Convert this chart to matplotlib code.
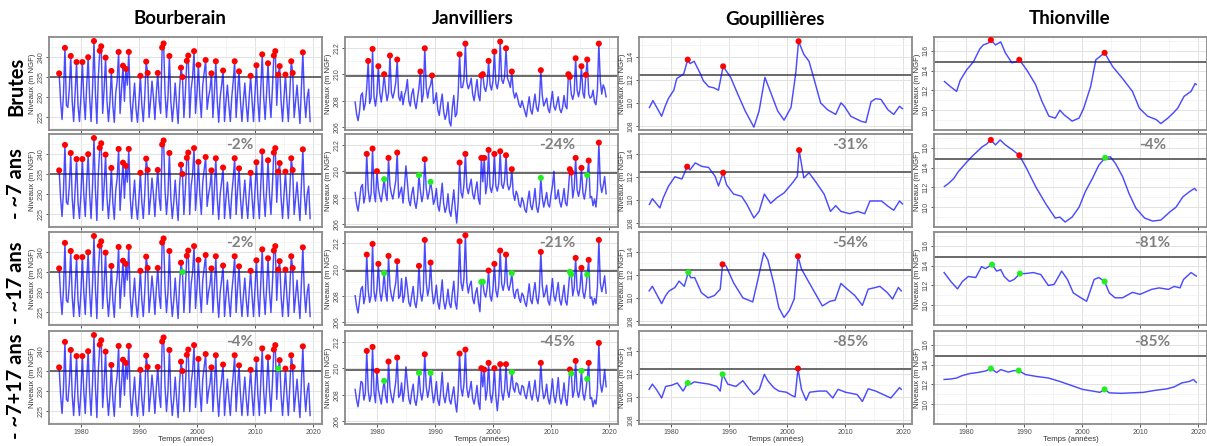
import numpy as np
import matplotlib
matplotlib.use('Agg')
import matplotlib.pyplot as plt
from matplotlib.ticker import MultipleLocator

# ---------------- data ----------------
sites = ['Bourberain', 'Janvilliers', 'Goupillières', 'Thionville']
rows = ['Brutes', '- ~7 ans', '- ~17 ans', '- ~7+17 ans']
pct = [[None, None, None, None],
       ['-2%', '-24%', '-31%', '-4%'],
       ['-2%', '-21%', '-54%', '-81%'],
       ['-4%', '-45%', '-85%', '-85%']]

# quarterly series start at 1976.25
q_start = 1976.25

bourb_h = [
    235.9, 229.0, 224.5,
    231.0, 242.2, 228.0, 227.5,
    232.0, 240.2, 229.0, 224.0,
    231.0, 238.7, 228.0, 224.0,
    230.0, 238.7, 230.0, 224.5,
    233.0, 239.9, 230.0, 224.0,
    232.0, 243.9, 231.0, 223.5,
    235.0, 241.5, 242.6, 226.0,
    232.0, 239.8, 229.0, 224.0,
    229.0, 236.5, 228.0, 223.8,
    231.0, 234.0, 241.2, 226.0,
    232.0, 237.8, 229.0, 237.0,
    233.0, 241.2, 229.0, 224.0,
    229.0, 233.5, 227.0, 223.8,
    229.0, 235.3, 228.0, 224.0,
    230.0, 238.8, 236.0, 225.0,
    229.0, 234.0, 230.0, 224.5,
    231.0, 236.0, 229.0, 226.0,
    242.3, 243.3, 231.0, 225.0,
    230.0, 240.2, 229.0, 224.0,
    228.0, 233.5, 228.0, 223.5,
    232.0, 237.3, 235.0, 225.0,
    231.0, 239.0, 240.3, 225.0,
    232.0, 235.0, 241.4, 226.0,
    231.0, 238.0, 230.0, 225.0,
    233.0, 236.0, 239.2, 227.0,
    230.0, 232.0, 235.9, 225.0,
    231.0, 238.9, 229.0, 223.8,
    230.0, 233.0, 236.6, 224.0,
    229.0, 233.0, 228.0, 224.0,
    230.0, 234.0, 238.9, 225.0,
    231.0, 236.4, 229.0, 224.0,
    229.0, 233.5, 228.0, 224.0,
    230.0, 235.3, 229.0, 224.0,
    231.0, 237.9, 229.0, 224.0,
    232.0, 240.6, 230.0, 224.5,
    231.0, 238.4, 230.0, 225.0,
    232.0, 240.3, 241.4, 228.0,
    235.6, 237.7, 229.0, 224.0,
    230.0, 235.6, 229.0, 224.0,
    231.0, 238.9, 236.0, 225.0,
    229.0, 233.0, 228.0, 223.5,
    232.0, 241.1, 230.0, 225.0,
    230.0, 232.0, 224.0,
]
bourb_peaks = [1976.25, 1977.25, 1978.25, 1979.25, 1980.25, 1981.25, 1982.25, 1983.25,
               1983.5, 1984.25, 1985.25, 1986.5, 1987.25, 1987.75, 1988.25, 1990.25,
               1991.25, 1991.5, 1993.25, 1994.0, 1994.25, 1995.25, 1997.25, 1997.5,
               1998.25, 1998.5, 1999.5, 2000.25, 2001.5, 2002.5, 2003.25, 2004.5,
               2006.5, 2007.25, 2009.25, 2010.25, 2011.25, 2012.25, 2013.25, 2013.5,
               2014.0, 2014.25, 2015.25, 2016.25, 2016.5, 2018.25]
bourb_green = [[], [], [1997.5], [2014.0]]

janv_h1 = [
    207.9, 207.0, 206.5,
    207.2, 208.4, 208.6, 207.3,
    207.8, 209.0, 211.0, 207.8,
    208.2, 211.9, 208.3, 207.6,
    208.5, 210.6, 208.6, 207.9,
    208.8, 210.0, 208.8, 208.0,
    208.6, 211.4, 208.6, 208.2,
    208.7, 209.4, 211.1, 208.3,
    208.0, 208.7, 207.7, 208.4,
    208.8, 209.6, 208.0, 207.6,
    208.5, 208.9, 207.9, 207.4,
    208.2, 209.0, 210.2, 207.9,
    208.5, 211.95, 209.0, 208.2,
    208.9, 209.2, 209.9, 207.8,
    208.0, 208.6, 207.3, 206.9,
    207.8, 208.5, 207.2, 206.6,
    207.0, 207.9, 206.4, 206.1,
    207.5, 208.4, 206.8, 207.0,
    208.5, 211.5, 209.0, 209.0,
    209.6, 212.3, 209.4, 208.9,
    209.2, 209.7, 208.5, 208.0,
    208.8, 209.6, 208.4, 208.0,
    209.9, 210.0, 209.0, 208.7,
    209.3, 211.0, 209.2, 208.8,
    209.5, 211.7, 209.3, 208.9,
    209.6, 212.45, 209.6, 209.3,
    209.8, 211.95, 209.7, 209.4,
    209.0, 210.2, 208.7, 208.2,
    208.6, 208.2, 207.7, 207.5,
    208.0, 207.6, 207.2, 206.8,
    207.6, 208.3, 207.3, 207.0,
    207.8, 208.5, 207.5, 207.2,
    208.0, 210.3, 208.4, 207.6,
    207.9, 208.2, 207.4, 207.1,
    207.9, 208.7, 207.6, 207.3,
    207.8, 208.3, 207.4, 207.1,
    207.5, 208.4, 207.6, 207.4,
    210.0, 209.8, 208.5, 208.1,
    208.6, 211.2, 208.8, 208.3,
    208.9, 210.6, 208.6, 208.2,
    209.95, 211.1, 208.5, 208.2,
    208.3, 208.8, 207.9, 207.7,
    208.8, 212.3, 209.5, 208.5,
    209.2, 208.9, 208.3,
]
janv_h2 = [
    208.4, 207.5, 207.0,
    207.8, 208.8, 209.0, 207.6,
    208.2, 211.3, 208.6, 207.7,
    208.3, 211.7, 208.4, 207.7,
    210.0, 208.7, 208.1, 207.7,
    208.5, 209.4, 208.3, 207.8,
    211.0, 208.9, 208.3, 207.9,
    208.6, 209.3, 211.4, 208.0,
    208.4, 208.8, 207.6, 208.8,
    210.4, 209.2, 207.8, 207.4,
    208.3, 208.8, 207.7, 207.2,
    208.0, 209.7, 208.5, 207.7,
    208.3, 210.9, 208.7, 207.9,
    208.4, 209.2, 208.5, 207.5,
    207.9, 208.7, 207.4, 207.0,
    208.0, 209.1, 207.6, 206.9,
    207.3, 208.3, 207.0, 206.6,
    207.6, 208.6, 207.2, 206.1,
    207.6, 210.65, 208.4, 208.0,
    209.0, 211.3, 208.8, 208.3,
    208.9, 209.4, 208.3, 207.9,
    208.6, 209.2, 207.9, 207.5,
    211.0, 209.2, 211.0, 208.3,
    209.0, 211.6, 208.8, 208.4,
    209.0, 211.3, 208.9, 208.5,
    209.1, 211.5, 209.0, 208.7,
    209.3, 211.2, 209.0, 208.6,
    208.9, 210.15, 208.3, 207.8,
    208.5, 208.2, 207.5, 207.3,
    208.0, 207.7, 207.1, 206.9,
    207.8, 208.5, 207.4, 207.1,
    207.8, 208.7, 207.3, 206.9,
    207.6, 209.5, 208.0, 207.3,
    207.8, 208.4, 207.5, 207.3,
    208.2, 208.9, 210.0, 207.9,
    208.0, 208.6, 207.7, 207.3,
    207.9, 208.7, 207.6, 207.4,
    208.6, 210.15, 209.9, 208.0,
    208.7, 211.0, 208.6, 208.1,
    208.7, 210.25, 208.4, 207.9,
    208.6, 209.7, 210.8, 208.0,
    208.1, 207.4, 207.9, 207.3,
    208.6, 212.15, 209.1, 208.4,
    208.9, 209.6, 208.3,
]
janv_h3 = [
    208.0, 207.2, 206.7,
    207.6, 208.5, 208.7, 207.4,
    208.0, 211.1, 208.4, 207.5,
    208.0, 211.9, 208.3, 207.6,
    208.5, 210.4, 208.3, 207.6,
    208.4, 209.7, 208.2, 207.6,
    211.0, 208.7, 208.0, 207.6,
    208.4, 209.0, 210.6, 207.8,
    208.0, 209.3, 207.5, 208.0,
    209.4, 208.6, 207.5, 207.2,
    208.0, 208.7, 207.5, 207.1,
    208.0, 210.25, 208.2, 207.6,
    208.4, 212.2, 209.0, 208.0,
    208.6, 210.5, 208.4, 207.4,
    207.9, 208.8, 207.5, 207.0,
    208.0, 209.2, 207.6, 207.0,
    207.6, 208.5, 207.4, 207.1,
    208.2, 209.1, 207.5, 207.0,
    208.6, 212.1, 209.0, 208.4,
    209.3, 212.55, 209.0, 208.2,
    208.8, 209.1, 207.8, 207.4,
    208.2, 208.6, 207.5, 206.8,
    209.05, 209.05, 208.2, 207.9,
    208.6, 209.9, 208.0, 207.6,
    208.5, 210.4, 208.4, 207.9,
    208.8, 211.4, 208.9, 208.4,
    209.0, 211.1, 208.8, 208.4,
    208.9, 209.7, 208.3, 207.8,
    208.4, 208.5, 207.8, 207.5,
    208.2, 208.0, 207.5, 207.2,
    208.0, 208.9, 207.7, 207.4,
    208.3, 209.0, 207.8, 207.4,
    208.4, 211.3, 208.8, 207.9,
    208.2, 208.8, 207.6, 207.3,
    208.2, 209.3, 208.0, 207.6,
    208.3, 209.0, 207.7, 207.3,
    208.0, 208.8, 207.6, 207.3,
    208.5, 209.8, 209.6, 208.0,
    208.6, 210.85, 208.5, 208.0,
    208.6, 210.1, 208.3, 207.8,
    208.5, 209.6, 210.7, 207.8,
    207.9, 207.3, 207.8, 207.4,
    208.6, 212.2, 209.0, 208.3,
    208.8, 209.5, 208.2,
]
janv_h4 = [
    208.4, 207.6, 207.1,
    208.0, 209.0, 208.9, 207.6,
    208.1, 211.3, 208.3, 207.5,
    208.0, 211.6, 208.2, 207.4,
    209.8, 208.4, 207.8, 207.3,
    208.3, 209.05, 207.9, 207.4,
    210.5, 208.5, 207.8, 207.4,
    208.2, 209.0, 210.8, 207.8,
    208.0, 208.9, 207.5, 208.4,
    210.1, 208.9, 207.7, 207.3,
    208.2, 208.8, 207.6, 207.2,
    208.0, 209.65, 208.2, 207.6,
    208.3, 211.05, 208.6, 207.8,
    208.4, 209.65, 208.3, 207.4,
    208.0, 209.0, 207.6, 207.2,
    208.3, 209.7, 207.9, 207.4,
    208.1, 208.9, 207.6, 207.3,
    208.0, 208.6, 207.4, 206.7,
    208.2, 211.1, 208.5, 207.9,
    208.8, 211.4, 208.5, 207.8,
    208.4, 209.0, 207.7, 207.3,
    207.9, 208.7, 207.4, 206.9,
    210.0, 208.6, 209.9, 207.6,
    208.3, 210.4, 208.1, 207.4,
    208.2, 210.0, 207.9, 206.8,
    208.0, 210.3, 208.2, 207.6,
    208.4, 210.3, 208.3, 207.8,
    208.6, 209.7, 208.5, 208.2,
    208.9, 208.8, 208.2, 208.0,
    208.7, 208.6, 208.0, 207.7,
    208.4, 209.0, 208.0, 207.6,
    208.3, 209.1, 207.9, 207.5,
    208.2, 210.4, 208.5, 207.7,
    208.0, 208.8, 207.7, 207.3,
    208.1, 209.2, 207.9, 207.4,
    208.2, 209.3, 207.8, 207.3,
    207.9, 208.9, 207.7, 207.2,
    208.4, 209.9, 209.6, 207.8,
    208.3, 210.55, 208.3, 207.8,
    208.4, 209.8, 208.1, 207.6,
    208.3, 209.2, 210.4, 207.7,
    207.8, 207.1, 207.6, 207.3,
    208.4, 211.9, 208.9, 208.2,
    208.8, 209.9, 208.6,
]
janv_red = [
    [1978.5, 1979.25, 1980.25, 1981.25, 1982.25, 1983.5, 1987.5, 1988.25, 1989.5, 1994.25,
     1995.25, 1998.0, 1998.25, 1999.25, 2000.25, 2001.25, 2002.25, 2003.25, 2008.25,
     2013.0, 2013.25, 2014.25, 2015.25, 2016.0, 2016.25, 2018.25],
    [1978.25, 1979.25, 1980.0, 1982.0, 1983.5, 1988.25, 1994.25, 1995.25, 1998.0, 1998.5,
     1999.25, 2000.25, 2001.25, 2002.25, 2003.25, 2013.25, 2013.5, 2014.25, 2015.25,
     2016.5, 2018.25],
    [1978.25, 1979.25, 1980.25, 1982.0, 1983.5, 1987.25, 1988.25, 1989.25, 1994.25, 1995.25,
     1999.25, 2000.25, 2001.25, 2002.25, 2008.25, 2014.25, 2015.25, 2016.5, 2018.25],
    [1978.25, 1979.25, 1980.0, 1982.0, 1983.5, 1988.25, 1994.25, 1995.25, 1998.0, 1998.5,
     1999.25, 2000.25, 2001.25, 2002.25, 2008.25, 2013.25, 2014.25, 2016.5, 2018.25],
]
janv_green = [
    [],
    [1981.25, 1987.25, 1989.25, 2008.25, 2016.25],
    [1981.25, 1998.0, 1998.25, 2003.25, 2013.25, 2013.5, 2016.25],
    [1981.25, 1987.25, 1989.25, 2003.25, 2013.5, 2015.25, 2016.25],
]

goup_t1 = [1976.3, 1976.9, 1978.4, 1979.0, 1979.6, 1980.5, 1981.0, 1982.2, 1982.9, 1983.3,
           1984.0, 1985.0, 1985.6, 1986.5, 1987.4, 1988.2, 1989.0, 1990.3, 1991.4, 1992.8,
           1994.3, 1995.2, 1996.2, 1997.2, 1998.4, 1999.5, 2000.7, 2001.5, 2002.0, 2002.9,
           2003.8, 2004.7, 2005.8, 2007.0, 2008.4, 2009.3, 2009.9, 2011.0, 2012.8, 2013.6,
           2014.5, 2015.3, 2016.2, 2017.4, 2018.4, 2019.4, 2019.9]
goup_h1 = [109.6, 110.2, 108.84, 109.7, 110.4, 111.1, 112.1, 112.5, 113.74, 113.4,
           113.6, 112.6, 111.9, 111.4, 111.3, 111.1, 113.16, 112.2, 110.9, 109.3,
           107.9, 109.3, 112.2, 110.9, 109.3, 108.5, 109.6, 112.5, 115.33, 114.2,
           113.6, 112.0, 110.0, 109.4, 109.0, 110.0, 109.7, 108.84, 108.4, 108.3,
           110.1, 110.36, 110.3, 109.4, 109.0, 109.7, 109.5]
goup_t2 = [1976.3, 1976.8, 1978.1, 1978.7, 1979.6, 1980.7, 1981.9, 1982.8, 1983.3, 1984.2,
           1985.3, 1986.5, 1987.6, 1988.2, 1989.0, 1989.6, 1990.8, 1992.2, 1993.1, 1994.3,
           1995.2, 1996.1, 1997.2, 1998.3, 1999.5, 2001.0, 2001.8, 2002.1, 2002.9, 2003.8,
           2004.9, 2006.4, 2007.5, 2008.4, 2009.3, 2010.8, 2012.2, 2013.4, 2014.3, 2015.4,
           2016.3, 2017.4, 2018.4, 2019.4, 2019.9]
goup_h2 = [109.6, 110.1, 109.3, 110.2, 111.2, 112.0, 111.8, 112.87, 112.6, 113.2,
           112.9, 112.8, 112.05, 111.2, 112.35, 111.3, 110.5, 110.3, 109.6, 108.43,
           109.0, 110.5, 109.7, 110.2, 110.6, 111.5, 112.05, 114.3, 111.9, 112.35,
           111.6, 110.5, 109.0, 109.5, 109.0, 108.8, 109.0, 108.8, 109.9, 109.9,
           109.9, 109.45, 109.1, 109.9, 109.65]
goup_t3 = [1976.25, 1976.8, 1977.55, 1978.4, 1979.1, 1979.7, 1980.7, 1981.4, 1982.3, 1983.0,
           1983.4, 1984.1, 1985.25, 1986.4, 1987.5, 1988.5, 1988.9, 1989.5, 1990.8, 1992.4,
           1994.1, 1995.0, 1996.0, 1996.7, 1997.7, 1998.6, 1999.5, 2000.4, 2001.25, 2001.9,
           2002.5, 2003.5, 2004.8, 2006.1, 2007.4, 2008.3, 2009.3, 2010.4, 2011.7, 2013.0,
           2014.0, 2015.3, 2016.0, 2017.3, 2018.2, 2019.2, 2019.7]
goup_h3 = [110.6, 111.0, 110.3, 109.5, 110.2, 110.6, 110.9, 111.45, 111.0, 112.2,
           111.75, 111.75, 110.45, 110.0, 110.2, 110.75, 112.9, 112.76, 111.3, 110.0,
           109.65, 111.6, 113.9, 113.3, 111.3, 109.15, 108.3, 108.9, 109.9, 113.6,
           112.5, 111.6, 110.45, 109.3, 109.7, 109.8, 111.25, 110.75, 110.2, 109.35,
           110.75, 110.9, 111.0, 110.45, 109.9, 110.9, 110.6]
goup_t4 = [1976.25, 1976.8, 1977.55, 1978.4, 1979.1, 1980.1, 1981.1, 1982.1, 1982.9, 1983.4,
           1984.0, 1985.25, 1986.6, 1987.9, 1988.5, 1988.9, 1989.8, 1991.2, 1992.4, 1993.5,
           1994.3, 1995.25, 1996.1, 1996.7, 1997.7, 1998.6, 1999.9, 2000.9, 2001.4, 2001.9,
           2002.5, 2003.3, 2003.9, 2005.5, 2006.8, 2007.9, 2008.8, 2010.1, 2012.1, 2013.0,
           2014.0, 2015.3, 2016.6, 2017.9, 2018.9, 2019.4, 2019.7]
goup_h4 = [110.65, 111.1, 110.6, 109.9, 110.9, 111.0, 111.2, 110.5, 111.2, 111.1,
           111.3, 111.2, 111.1, 110.9, 110.5, 111.95, 111.1, 110.9, 111.4, 110.65,
           110.2, 110.65, 111.95, 111.4, 110.8, 110.5, 110.4, 110.1, 110.0, 112.45,
           110.65, 109.7, 110.4, 110.5, 110.5, 109.9, 110.65, 110.4, 110.2, 109.6,
           110.7, 110.5, 110.2, 109.9, 110.5, 110.8, 110.65]
goup_red = [[1982.9, 1989.0, 2002.0], [1982.8, 1989.0, 2002.1], [1988.9, 2001.9], [2001.9]]
goup_green = [[], [], [1983.0], [1982.9, 1988.9]]

thion_t1 = [1976.3, 1977.3, 1978.4, 1979.0, 1980.1, 1981.3, 1982.4, 1983.0, 1983.9, 1984.3,
            1985.1, 1986.0, 1986.8, 1987.9, 1988.8, 1989.2, 1990.5, 1992.0, 1993.1, 1994.3,
            1995.4, 1996.2, 1996.9, 1998.3, 1999.5, 2000.3, 2001.5, 2002.4, 2003.9, 2005.3,
            2007.0, 2008.7, 2009.9, 2011.3, 2012.8, 2013.6, 2014.8, 2015.7, 2016.5, 2017.6,
            2018.8, 2019.5, 2019.7]
thion_h1 = [112.9, 112.4, 111.9, 113.0, 114.06, 114.9, 116.2, 116.6, 116.8, 117.1,
            116.6, 116.9, 115.8, 114.8, 114.9, 115.1, 114.06, 112.6, 110.9, 109.4,
            109.2, 110.0, 109.55, 108.9, 109.2, 110.2, 112.4, 115.1, 115.8, 114.4,
            113.2, 111.9, 110.2, 109.4, 109.05, 108.65, 109.2, 109.7, 110.2, 111.4,
            111.9, 112.7, 112.6]
thion_t2 = [1976.3, 1977.0, 1977.9, 1978.7, 1979.9, 1981.0, 1981.9, 1982.8, 1983.6, 1984.3,
            1985.1, 1985.9, 1986.8, 1988.0, 1989.2, 1990.3, 1992.0, 1993.7, 1995.4, 1996.2,
            1997.1, 1998.3, 1999.5, 2000.6, 2001.8, 2002.9, 2004.0, 2004.9, 2005.8, 2007.0,
            2008.1, 2009.3, 2010.8, 2012.2, 2013.6, 2015.1, 2016.2, 2017.4, 2018.6, 2019.4,
            2019.7]
thion_h2 = [112.1, 112.4, 112.9, 113.6, 114.4, 115.1, 115.6, 116.1, 116.4, 116.8,
            116.3, 116.8, 116.3, 115.8, 115.25, 114.1, 112.1, 110.4, 108.9, 109.0,
            108.5, 109.0, 110.0, 111.6, 112.9, 114.25, 115.0, 115.1, 114.4, 113.1,
            111.4, 109.9, 108.9, 108.6, 108.7, 109.5, 110.0, 111.05, 111.6, 111.9,
            111.7]
thion_t3 = [1976.25, 1977.4, 1978.55, 1979.4, 1980.4, 1981.7, 1982.7, 1983.35, 1984.5, 1985.3,
            1986.0, 1986.6, 1987.5, 1988.3, 1989.3, 1990.25, 1991.6, 1992.9, 1994.2, 1995.2,
            1996.5, 1997.5, 1998.5, 1999.8, 2000.8, 2001.1, 2002.1, 2002.9, 2003.9, 2004.7,
            2005.7, 2007.0, 2008.7, 2010.0, 2012.0, 2013.3, 2014.9, 2015.9, 2016.9, 2017.5,
            2018.8, 2019.7]
thion_h3 = [113.3, 112.4, 111.65, 112.4, 112.9, 112.8, 113.9, 113.7, 114.1, 113.45,
            113.6, 112.9, 112.4, 112.6, 113.2, 113.2, 113.3, 113.1, 112.0, 112.1,
            113.45, 112.6, 111.25, 110.75, 110.4, 110.9, 112.6, 112.8, 112.4, 111.25,
            110.75, 110.75, 111.3, 111.1, 111.6, 111.75, 111.6, 111.9, 111.75, 112.6,
            113.3, 112.95]
thion_t4 = [1976.25, 1977.4, 1978.4, 1979.4, 1980.7, 1982.0, 1983.35, 1984.3, 1985.3, 1986.0,
            1987.3, 1988.3, 1989.1, 1990.25, 1992.2, 1994.2, 1996.2, 1998.15, 2000.1, 2002.1,
            2003.1, 2003.9, 2004.7, 2006.7, 2008.7, 2010.6, 2012.6, 2014.6, 2015.9, 2017.2,
            2018.5, 2019.2, 2019.7]
thion_h4 = [112.5, 112.55, 112.65, 112.9, 113.1, 113.2, 113.35, 113.6, 113.2, 113.5,
            113.25, 113.4, 113.4, 113.0, 112.8, 112.65, 112.3, 111.9, 111.5, 111.3,
            111.2, 111.5, 111.15, 111.1, 111.15, 111.2, 111.4, 111.55, 111.75, 112.15,
            112.3, 112.5, 112.2]
thion_red = [[1984.3, 1989.2, 2003.9], [1984.3, 1989.2], [], []]
thion_green = [[], [2004.0], [1984.5, 1989.3, 2003.9], [1984.3, 1989.1, 2003.9]]

# thresholds and axes per site
thresholds = [235.0, 209.85, 112.4, 114.9]
ylims = [(221.9, 244.9), (205.8, 212.8), (107.65, 115.7), (108.0, 117.4)]
yticks = [[225, 230, 235, 240], [206, 208, 210, 212], [108, 110, 112, 114], [110, 112, 114, 116]]
yminor = [2.5, 1, 1, 1]


def quarterly(h):
    return q_start + 0.25 * np.arange(len(h))


series = {}
for r in range(4):
    series[(0, r)] = (quarterly(bourb_h), np.array(bourb_h), bourb_peaks if r < 2 else
                      [p for p in bourb_peaks if p not in bourb_green[r]], bourb_green[r])
janv_all = [janv_h1, janv_h2, janv_h3, janv_h4]
goup_all = [(goup_t1, goup_h1), (goup_t2, goup_h2), (goup_t3, goup_h3), (goup_t4, goup_h4)]
thion_all = [(thion_t1, thion_h1), (thion_t2, thion_h2), (thion_t3, thion_h3), (thion_t4, thion_h4)]
for r in range(4):
    series[(1, r)] = (quarterly(janv_all[r]), np.array(janv_all[r]), janv_red[r], janv_green[r])
    series[(2, r)] = (np.array(goup_all[r][0]), np.array(goup_all[r][1]), goup_red[r], goup_green[r])
    series[(3, r)] = (np.array(thion_all[r][0]), np.array(thion_all[r][1]), thion_red[r], thion_green[r])

# ---------------- layout ----------------
W, H = 1207, 446
fig = plt.figure(figsize=(W / 100, H / 100), dpi=100)
col_left = [49, 345, 639, 934]
row_top = [37, 134, 232, 331]
pw, ph = 273, 93
pct_x = [0.70, 0.776, 0.774, 0.80]

tick_font = 'Liberation Sans'
big_font = 'Lato'


def pick(t, h, years):
    idx = [int(np.abs(t - y).argmin()) for y in years]
    return t[idx], h[idx]


for c in range(4):
    for r in range(4):
        ax = fig.add_axes([col_left[c] / W, 1 - (row_top[r] + ph) / H, pw / W, ph / H])
        t, h, red, green = series[(c, r)]

        ax.set_xlim(1974.5, 2021.55)
        ax.set_ylim(*ylims[c])
        ax.set_xticks([1980, 1990, 2000, 2010, 2020])
        ax.xaxis.set_minor_locator(MultipleLocator(5))
        ax.set_yticks(yticks[c])
        ax.yaxis.set_minor_locator(MultipleLocator(yminor[c]))
        ax.grid(which='major', color='#e2e2e2', lw=0.7)
        ax.grid(which='minor', color='#f0f0f0', lw=0.45)
        ax.set_axisbelow(True)
        for s in ax.spines.values():
            s.set_color('#8a8a8a')
            s.set_linewidth(1.3)

        ax.tick_params(which='major', length=2.5, width=0.7, color='#555555',
                       labelsize=5, labelcolor='#4d4d4d', pad=1)
        ax.tick_params(which='minor', length=0)
        ax.tick_params(axis='y', labelrotation=90)
        for lbl in ax.get_yticklabels():
            lbl.set_va('center')
            lbl.set_family(tick_font)
        for lbl in ax.get_xticklabels():
            lbl.set_family(tick_font)
        if r < 3:
            ax.tick_params(axis='x', labelbottom=False)
        else:
            ax.set_xlabel('Temps (années)', fontsize=5.6, color='#333333',
                          family=tick_font, labelpad=0)
        ax.set_ylabel('Niveaux (m NGF)', fontsize=5.6, color='#333333',
                      family=tick_font, labelpad=0.5)

        ax.axhline(thresholds[c], color='#5e5e5e', lw=1.3, zorder=2)
        ax.plot(t, h, color='blue', alpha=0.7, lw=1.05, zorder=3)
        if red:
            xr, yr = pick(t, h, red)
            ax.scatter(xr, yr, s=19, color='red', edgecolors='none', zorder=4)
        if green:
            xg, yg = pick(t, h, green)
            ax.scatter(xg, yg, s=19, color='#22ee22', edgecolors='none', zorder=4)

        if pct[r][c]:
            ax.text(pct_x[c], 0.885, pct[r][c], transform=ax.transAxes, ha='center',
                    va='center', fontsize=11, color='#808080', fontweight='bold',
                    family=big_font)

title_x = [180, 473, 775, 1070]
for c in range(4):
    fig.text(title_x[c] / W, 1 - 19 / H, sites[c], ha='center', va='center',
             fontsize=13.5, fontweight='bold', family=big_font)

row_y = [86, 184, 283, 386]
for r in range(4):
    fig.text(16 / W, 1 - row_y[r] / H, rows[r], ha='center', va='center', rotation=90,
             fontsize=14.5, fontweight='bold', family=big_font)

fig.savefig('out.png', dpi=100)
